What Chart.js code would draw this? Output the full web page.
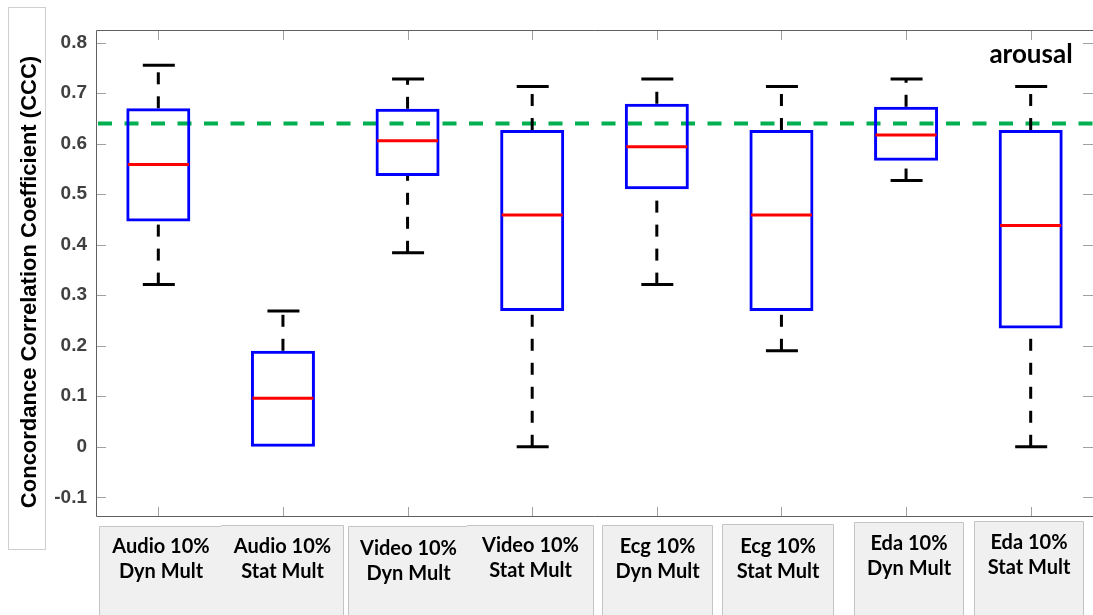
<!DOCTYPE html>
<html>
<head>
<meta charset="utf-8">
<script src="https://cdn.jsdelivr.net/npm/chart.js@4.4.1/dist/chart.umd.min.js"></script>
<style>
  html, body { margin: 0; padding: 0; background: #fff; overflow: hidden; }
  canvas { display: block; }
</style>
</head>
<body>
<canvas id="c" width="1093" height="615"></canvas>
<script>
// Box-plot summary per model: whisker ends, quartiles and median of the CCC scores
const categories = [
  ["Audio 10%", "Dyn Mult"], ["Audio 10%", "Stat Mult"],
  ["Video 10%", "Dyn Mult"], ["Video 10%", "Stat Mult"],
  ["Ecg 10%", "Dyn Mult"],   ["Ecg 10%", "Stat Mult"],
  ["Eda 10%", "Dyn Mult"],   ["Eda 10%", "Stat Mult"]
];
const whiskerLow  = [0.321, 0.000, 0.384, 0.000, 0.321, 0.190, 0.527, 0.000];
const quartile1   = [0.446, 0.000, 0.536, 0.269, 0.510, 0.269, 0.566, 0.234];
const medians     = [0.559, 0.096, 0.606, 0.459, 0.594, 0.459, 0.617, 0.438];
const quartile3   = [0.670, 0.190, 0.669, 0.627, 0.679, 0.627, 0.673, 0.627];
const whiskerHigh = [0.755, 0.269, 0.728, 0.713, 0.728, 0.713, 0.728, 0.713];
const referenceLevel = 0.64;

const yTickValues = [-0.1, 0, 0.1, 0.2, 0.3, 0.4, 0.5, 0.6, 0.7, 0.8];
const yTickLabels = ["-0.1", "0", "0.1", "0.2", "0.3", "0.4", "0.5", "0.6", "0.7", "0.8"];
const axisTitle = "Concordance Correlation Coefficient (CCC)";
const panelLabel = "arousal";

// Label panels under the axis: left, right, top edge, first baseline, draw left border
const labelPanels = [
  [99, 222, 526, 553, true],  [221, 343, 525, 553, false],
  [348, 468, 526, 555, true], [467, 593, 525, 552, false],
  [602, 712, 525, 553, true], [722, 833, 524, 553, true],
  [854, 963, 522, 550, true], [974, 1083, 521, 549, true]
];

const ARIAL = '"Liberation Sans", Arial, sans-serif';
const CALIBRI = 'Lato, "Open Sans", sans-serif';

const boxDecor = {
  id: 'boxDecor',
  beforeDatasetsDraw(chart) {
    const { ctx, chartArea: a, scales: { x, y } } = chart;
    ctx.save();
    // reference level
    ctx.strokeStyle = '#00b050';
    ctx.lineWidth = 4;
    ctx.setLineDash([14, 12.5]);
    const yr = y.getPixelForValue(referenceLevel);
    ctx.beginPath();
    ctx.moveTo(a.left + 2, yr);
    ctx.lineTo(a.right, yr);
    ctx.stroke();

    // whiskers, drawn upward from their lower end, each with a cap at its far end
    ctx.strokeStyle = '#000';
    ctx.lineWidth = 3;
    categories.forEach((_, i) => {
      const cx = x.getPixelForValue(i);
      [[whiskerLow[i], quartile1[i], whiskerLow[i]], [quartile3[i], whiskerHigh[i], whiskerHigh[i]]].forEach(([lo, hi, end]) => {
        if (hi <= lo) return;
        ctx.setLineDash([12, 12]);
        ctx.beginPath();
        ctx.moveTo(cx, y.getPixelForValue(lo));
        ctx.lineTo(cx, y.getPixelForValue(hi));
        ctx.stroke();
        ctx.setLineDash([]);
        const py = y.getPixelForValue(end);
        ctx.beginPath();
        ctx.moveTo(cx - 15.5, py);
        ctx.lineTo(cx + 16.5, py);
        ctx.stroke();
      });
    });
    ctx.restore();
  },
  afterDatasetsDraw(chart) {
    const { ctx, scales: { y } } = chart;
    const meta = chart.getDatasetMeta(0);
    ctx.save();
    ctx.strokeStyle = '#ff0000';
    ctx.lineWidth = 3;
    categories.forEach((_, i) => {
      const bar = meta.data[i];
      const half = bar.width / 2 - 1.5;
      const py = y.getPixelForValue(medians[i]);
      ctx.beginPath();
      ctx.moveTo(bar.x - half, py);
      ctx.lineTo(bar.x + half, py);
      ctx.stroke();
    });
    ctx.restore();
  },
  afterDraw(chart) {
    const { ctx, chartArea: a, scales: { x, y } } = chart;
    ctx.save();
    // tick marks pointing inward on all four sides
    ctx.strokeStyle = '#a0a0a0';
    ctx.lineWidth = 1;
    ctx.beginPath();
    yTickValues.forEach(v => {
      const py = Math.round(y.getPixelForValue(v)) + 0.5;
      ctx.moveTo(a.left, py); ctx.lineTo(a.left + 10, py);
      ctx.moveTo(a.right - 10, py); ctx.lineTo(a.right, py);
    });
    categories.forEach((_, i) => {
      const px = Math.round(x.getPixelForValue(i)) + 0.5;
      ctx.moveTo(px, a.top); ctx.lineTo(px, a.top + 10);
      ctx.moveTo(px, a.bottom); ctx.lineTo(px, a.bottom - 10);
    });
    ctx.stroke();

    // axes frame
    ctx.strokeStyle = '#606060';
    ctx.beginPath();
    ctx.moveTo(a.right, a.top + 0.5);
    ctx.lineTo(a.left + 0.5, a.top + 0.5);
    ctx.lineTo(a.left + 0.5, a.bottom - 0.5);
    ctx.lineTo(a.right, a.bottom - 0.5);
    ctx.stroke();

    // panel label
    ctx.fillStyle = '#000';
    ctx.font = 'bold 26px ' + CALIBRI;
    ctx.textAlign = 'center';
    ctx.textBaseline = 'alphabetic';
    ctx.fillText(panelLabel, 1031, 63);

    // axis title in its framed box
    ctx.fillStyle = '#fff';
    ctx.fillRect(8, 7, 37, 542);
    ctx.strokeStyle = '#cfcfcf';
    ctx.strokeRect(8.5, 7.5, 37, 542);
    ctx.save();
    ctx.translate(35.5, 282);
    ctx.rotate(-Math.PI / 2);
    ctx.fillStyle = '#000';
    ctx.font = 'bold 22px ' + ARIAL;
    ctx.textAlign = 'center';
    ctx.fillText(axisTitle, 0, 0);
    ctx.restore();

    // category label panels
    labelPanels.forEach(([l, r, t, b, leftEdge], i) => {
      ctx.fillStyle = '#f0f0f0';
      ctx.fillRect(l, t, r - l, 620 - t);
      ctx.strokeStyle = '#c4c4c4';
      ctx.beginPath();
      if (leftEdge) {
        ctx.moveTo(l + 0.5, 620);
        ctx.lineTo(l + 0.5, t + 0.5);
      } else {
        ctx.moveTo(l, t + 0.5);
      }
      ctx.lineTo(r + 0.5, t + 0.5);
      ctx.lineTo(r + 0.5, 620);
      ctx.stroke();
      ctx.fillStyle = '#000';
      ctx.font = 'bold 20px ' + CALIBRI;
      ctx.textAlign = 'center';
      const cx = (l + r) / 2 + 0.5;
      ctx.fillText(categories[i][0], cx, b);
      ctx.fillText(categories[i][1], cx, b + 24.5);
    });
    ctx.restore();
  }
};

new Chart(document.getElementById('c'), {
  type: 'bar',
  data: {
    labels: categories,
    datasets: [{
      data: categories.map((_, i) => [quartile1[i], quartile3[i]]),
      backgroundColor: 'rgba(0,0,0,0)',
      borderColor: '#0000ff',
      borderWidth: 3,
      borderSkipped: false,
      barPercentage: 64 / 124.6,
      categoryPercentage: 1
    }]
  },
  options: {
    responsive: false,
    animation: false,
    devicePixelRatio: 1,
    layout: { padding: { top: 30, bottom: 98, left: 0, right: 0 } },
    plugins: { legend: { display: false }, tooltip: { enabled: false } },
    scales: {
      x: { display: false },
      y: {
        min: -0.139,
        max: 0.825,
        afterFit(scale) { scale.width = 96; },
        afterBuildTicks(scale) { scale.ticks = yTickValues.map(v => ({ value: v })); },
        grid: { display: false, drawTicks: false },
        border: { display: false },
        ticks: {
          padding: 9,
          color: '#404040',
          font: { family: ARIAL, size: 19, weight: 'bold' },
          callback: (v, i) => yTickLabels[i]
        }
      }
    }
  },
  plugins: [boxDecor]
});
</script>
</body>
</html>
